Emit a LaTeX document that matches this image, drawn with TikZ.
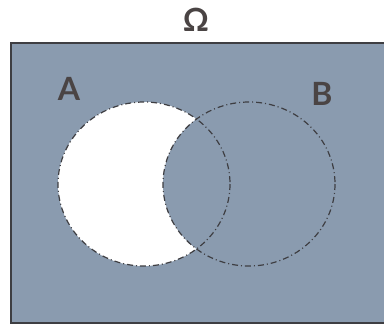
\documentclass[tikz,border=0pt]{standalone}
\usepackage{fontspec}
\setmainfont{Lato}
\definecolor{bluegray}{HTML}{8A9BAF}
\definecolor{labelgray}{HTML}{4A4444}
\definecolor{edgegray}{HTML}{3E3E42}
\tikzset{
  lbl/.style={text=labelgray, font=\fontsize{32}{32}\selectfont\bfseries, inner sep=0pt},
  setline/.style={draw=edgegray, line width=1.2pt, dash pattern=on 6pt off 3pt on 1pt off 3pt}
}
\begin{document}
\begin{tikzpicture}[x=1pt,y=-1pt]
\useasboundingbox (0,0) rectangle (384,325);
\clip (0,0) rectangle (384,325);
\fill[white] (0,0) rectangle (384,325);
\draw[draw=edgegray, line width=2pt, fill=bluegray] (11,43) rectangle (390,323);
\fill[white] (144,184) ellipse [x radius=86, y radius=82];
\fill[bluegray] (249,184) ellipse [x radius=86, y radius=82];
\draw[setline] (144,184) ellipse [x radius=86, y radius=82];
\draw[setline] (249,184) ellipse [x radius=86, y radius=82];
\node[lbl] (omega) at (196,20) {Ω};
\node[lbl] (a) at (69,89) {A};
\node[lbl] (b) at (322,94) {B};
\end{tikzpicture}
\end{document}
